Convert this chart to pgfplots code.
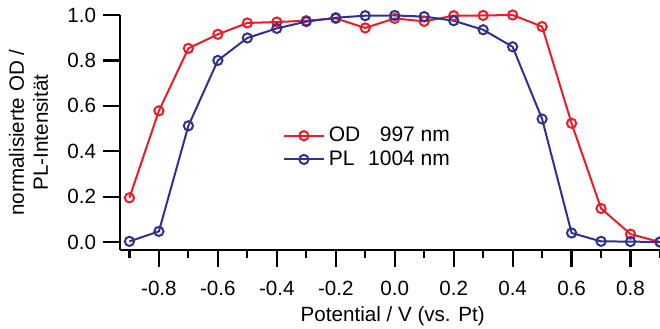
\documentclass[border=0pt]{standalone}
\usepackage{pgfplots}
\pgfplotsset{compat=1.18}
\usepackage{fontspec}
\setmainfont{Liberation Sans}
\definecolor{odred}{RGB}{237,28,36}
\definecolor{plblue}{RGB}{46,49,146}
\begin{document}
\fontsize{10.3}{12}\selectfont
\begin{tikzpicture}
\useasboundingbox (-60pt,-39pt) rectangle (270pt,125pt);
\begin{axis}[
  at={(0,0)}, anchor=south west,
  width=270pt, height=117.5pt, scale only axis,
  xmin=-0.932, xmax=0.9, ymin=-0.035, ymax=1.0,
  clip=false,
  axis x line*=bottom, axis y line*=left,
  axis line style={line width=1.1pt, -},
  tick align=outside,
  major tick length=8.3pt, minor tick length=4.2pt,
  every tick/.style={line width=1.1pt, black},
  xtick={-0.8,-0.6,-0.4,-0.2,0,0.2,0.4,0.6,0.8},
  xticklabels={-0.8,-0.6,-0.4,-0.2,0.0,0.2,0.4,0.6,0.8},
  minor xtick={-0.9,-0.7,-0.5,-0.3,-0.1,0.1,0.3,0.5,0.7,0.9},
  ytick={0,0.2,0.4,0.6,0.8,1.0},
  yticklabels={0.0,0.2,0.4,0.6,0.8,1.0},
  xticklabel style={yshift=-3.5pt},
  xlabel={Potential / V (vs. Pt)},
  ylabel={normalisierte OD /\\PL-Intensität},
  xlabel style={at={(axis description cs:0.505,-0.28)}, anchor=center},
  ylabel style={at={(axis description cs:-0.1694,0.5)}, anchor=center, rotate=0, align=center},
  legend style={at={(rel axis cs:0.29,0.56)}, anchor=north west, draw=none, fill=none, row sep=-1pt, font=\fontsize{10.5}{12}\selectfont},
  legend cell align=left,
  legend image code/.code={\draw[mark repeat=2,mark phase=2] plot coordinates {(0cm,0cm)(0.35cm,0cm)(0.7cm,0cm)};},
]
\addplot[odred, line width=1pt, mark=o, mark size=2.3pt, mark options={fill=white, line width=1pt}] coordinates {
(-0.9,0.195) (-0.8,0.578) (-0.7,0.853) (-0.6,0.915) (-0.5,0.965) (-0.4,0.969) (-0.3,0.975) (-0.2,0.985) (-0.1,0.943) (0.0,0.985) (0.1,0.972) (0.2,0.997) (0.3,0.998) (0.4,1.0) (0.5,0.949) (0.6,0.523) (0.7,0.148) (0.8,0.035) (0.9,0.0)
};
\addlegendentry{\makebox[1.8em][l]{OD}\makebox[2.3em][r]{997}~nm}
\addplot[plblue, line width=1pt, mark=o, mark size=2.3pt, mark options={fill=white, line width=1pt}] coordinates {
(-0.9,0.003) (-0.8,0.047) (-0.7,0.512) (-0.6,0.80) (-0.5,0.899) (-0.4,0.941) (-0.3,0.971) (-0.2,0.988) (-0.1,0.997) (0.0,0.998) (0.1,0.993) (0.2,0.975) (0.3,0.935) (0.4,0.86) (0.5,0.542) (0.6,0.04) (0.7,0.003) (0.8,0.002) (0.9,0.0)
};
\addlegendentry{\makebox[1.8em][l]{PL}\makebox[2.3em][r]{1004}~nm}
\end{axis}
\end{tikzpicture}
\end{document}
